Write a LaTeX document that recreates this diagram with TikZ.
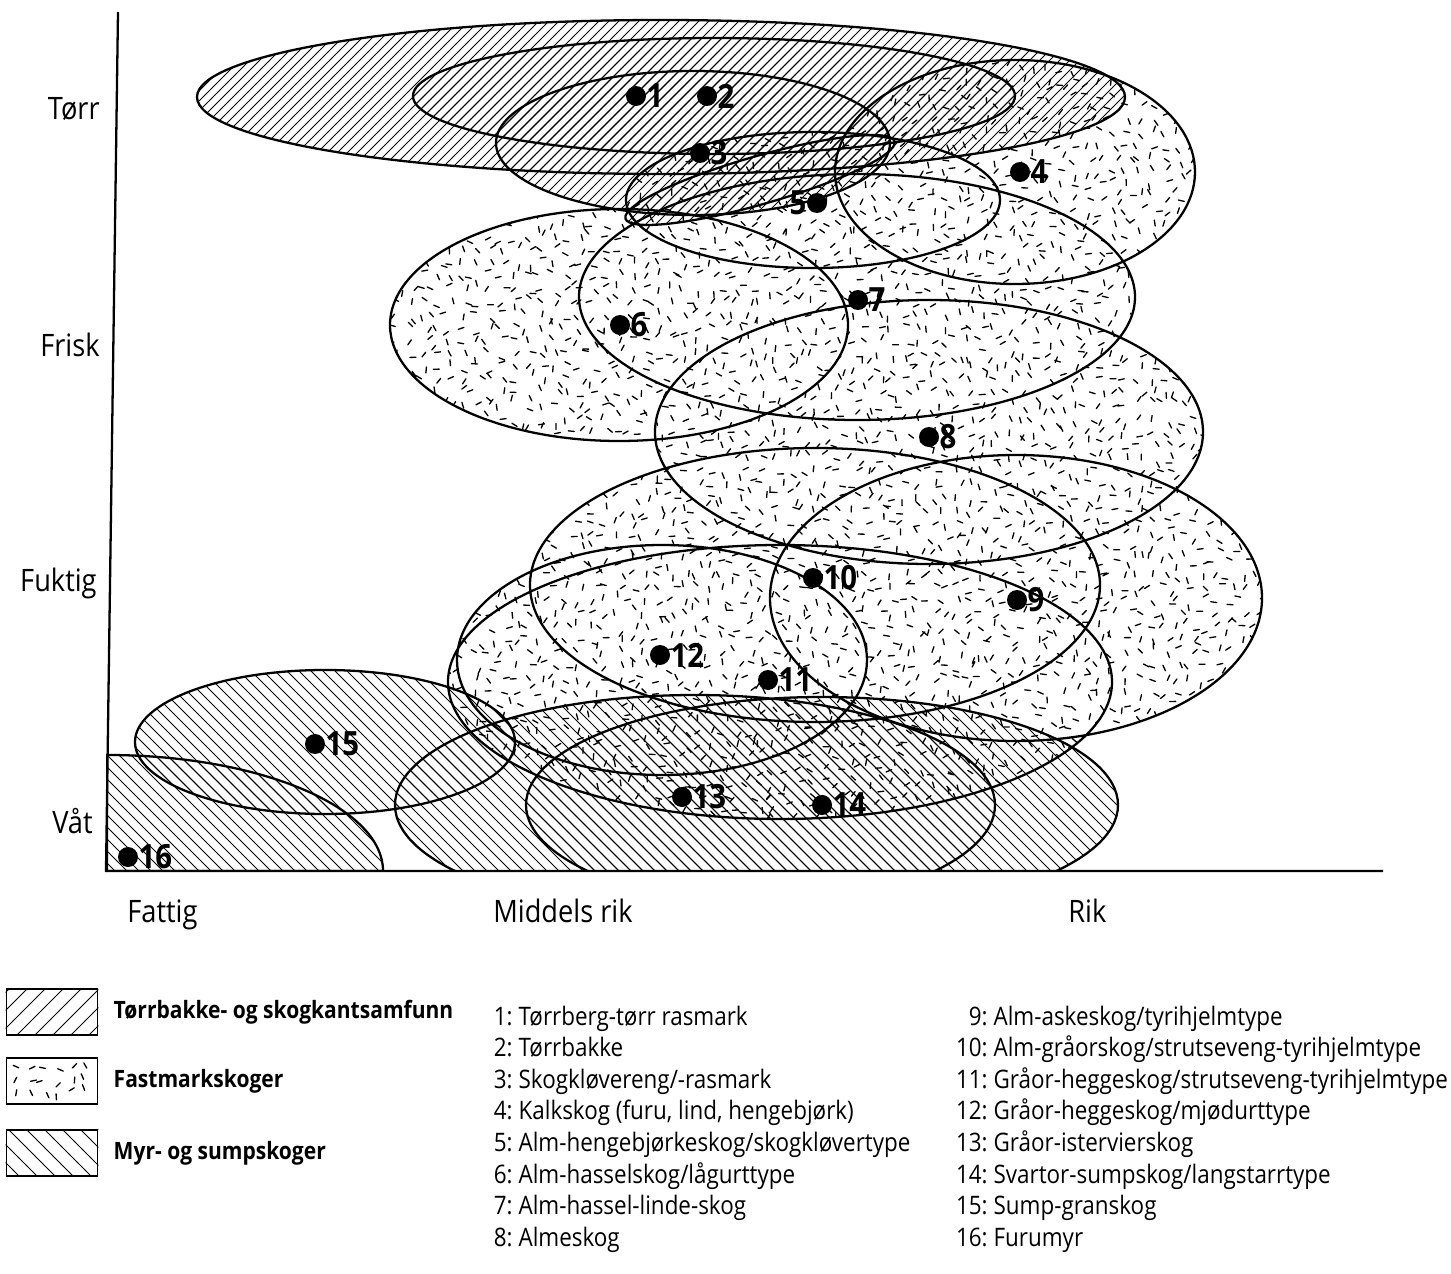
\documentclass[tikz,border=0pt]{standalone}
\usepackage{fontspec}
\setmainfont{Open Sans}[FakeStretch=0.88]
\usetikzlibrary{positioning}

\tikzset{
  outline/.style={line width=1.3pt},
  hatchline/.style={line width=0.55pt},
  stippledash/.style={line width=0.75pt, line cap=round},
  dot/.style={circle, fill=black, inner sep=0pt, minimum size=0.4cm},
  numlabel/.style={inner sep=0pt, font=\fontsize{19}{22}\selectfont\bfseries},
  axislabel/.style={inner sep=0pt, font=\fontsize{17.6}{21}\selectfont},
  listtext/.style={inner sep=0pt, font=\fontsize{14.5}{17}\selectfont},
  keytext/.style={inner sep=0pt, font=\fontsize{13.6}{16}\selectfont\bfseries},
  keybox/.style={draw, line width=1pt, inner sep=0pt, minimum width=1.82cm, minimum height=0.92cm},
}

\def\fastshapes{1015/172/180/112, 813/200/187/68, 619/325/229/116, 857/297/278/123, 929/432/274/132, 1016/598/246/143, 815/585/285/137, 780/682/332/137, 662/660/205/115}
\def\dryshapes{661/97/464/77/0, 714/96/301/58/0, 693/143/197/72/0, 760/180/140/24/16}
\def\wetshapes{695/805/300/110, 822/805/296/108, 325/742/190/72}

\begin{document}
\begin{tikzpicture}[x=0.02cm, y=-0.02cm]
\useasboundingbox (0,0) rectangle (1451,1274);

\begin{scope}
\clip (106,0) rectangle (1451,871);
% Fastmarkskoger
\begin{scope}
\clip foreach \cx/\cy/\rx/\ry in \fastshapes {(\cx,\cy) ellipse [x radius=\rx, y radius=\ry]};
\pgfmathsetseed{7}
\draw[stippledash] foreach \i in {0,...,68} {foreach \j in {0,...,59} {(385+13*\i+10*rnd-5, 55+13*\j+10*rnd-5) -- ++(360*rnd:6)}};
\end{scope}
% Toerrbakke
\foreach \cx/\cy/\rx/\ry/\rot in \dryshapes {
  \begin{scope}
  \clip[rotate around={\rot:(\cx,\cy)}] (\cx,\cy) ellipse [x radius=\rx, y radius=\ry];
  \draw[hatchline] foreach \c in {210,220,...,1360} {(\c,0) -- ++(-300,300)};
  \end{scope}
}
% Myr
\foreach \cx/\cy/\rx/\ry in \wetshapes {
  \begin{scope}
  \clip (\cx,\cy) ellipse [x radius=\rx, y radius=\ry];
  \draw[hatchline] foreach \c in {-180,-168,...,1070} {(\c,600) -- ++(300,300)};
  \end{scope}
}
\begin{scope}
\clip (107,871) -- (107,755) arc [start angle=-90, end angle=0, x radius=276, y radius=116] -- cycle;
\draw[hatchline] foreach \c in {-180,-168,...,1070} {(\c,600) -- ++(300,300)};
\end{scope}

\draw[outline] foreach \cx/\cy/\rx/\ry in \fastshapes {(\cx,\cy) ellipse [x radius=\rx, y radius=\ry]};
\foreach \cx/\cy/\rx/\ry/\rot in \dryshapes
  \draw[outline, rotate around={\rot:(\cx,\cy)}] (\cx,\cy) ellipse [x radius=\rx, y radius=\ry];
\draw[outline] foreach \cx/\cy/\rx/\ry in \wetshapes {(\cx,\cy) ellipse [x radius=\rx, y radius=\ry]};
\draw[outline] (107,871) -- (107,755) arc [start angle=-90, end angle=0, x radius=276, y radius=116] -- cycle;
\end{scope}

\coordinate (ytop) at (118,12);
\coordinate (origin) at (106,871);
\coordinate (xend) at (1383,871);
\draw[outline] (ytop) -- (origin) -- (xend);

\foreach \n/\x/\y/\side/\anc in {1/636/96/east/west, 2/707/96/east/west, 3/700/153/east/west, 4/1020/172/east/west, 5/817/203/west/east, 6/620/325/east/west, 7/858/300/east/west, 8/929/437/east/west, 9/1017/600/east/west, 10/813/578/east/west, 11/768/680/east/west, 12/660/655/east/west, 13/682/797/east/west, 14/822/805/east/west, 15/315/744/east/west, 16/128/857/east/west} {
  \node[dot] (d\n) at (\x,\y) {};
  \node[numlabel, anchor=\anc] (n\n) at (d\n.\side) {\n};
}

\node[axislabel, anchor=base east] (torr) at (100,120) {Tørr};
\node[axislabel, anchor=base east] (frisk) at (100,356) {Frisk};
\node[axislabel, anchor=base east] (fuktig) at (97,591) {Fuktig};
\node[axislabel, anchor=base east] (vat) at (93,833) {Våt};
\node[axislabel, anchor=base west] (fattig) at (127,922) {Fattig};
\node[axislabel, anchor=base west] (middels) at (493,922) {Middels rik};
\node[axislabel, anchor=base west] (rik) at (1068,922) {Rik};

\node[keybox] (k1) at (52,1012) {};
\node[keybox] (k2) at (52,1081) {};
\node[keybox] (k3) at (52,1153) {};
\begin{scope}
\clip (k1.south west) rectangle (k1.north east);
\draw[hatchline] foreach \c in {0,18,...,170} {(\c,980) -- ++(-60,60)};
\end{scope}
\begin{scope}
\clip (k2.south west) rectangle (k2.north east);
\pgfmathsetseed{3}
\draw[stippledash] foreach \i in {0,...,5} {foreach \j in {0,1,2} {(13+14*\i+6*rnd, 1064+13*\j+6*rnd) -- ++(360*rnd:6)}};
\end{scope}
\begin{scope}
\clip (k3.south west) rectangle (k3.north east);
\draw[hatchline] foreach \c in {-50,-32,...,100} {(\c,1125) -- ++(60,60)};
\end{scope}
\node[keytext, right=0.3cm of k1] (c1) {Tørrbakke- og skogkantsamfunn};
\node[keytext, right=0.3cm of k2] (c2) {Fastmarkskoger};
\node[keytext, right=0.3cm of k3] (c3) {Myr- og sumpskoger};

\foreach \t [count=\r] in {Tørrberg-tørr rasmark, Tørrbakke, Skogkløvereng/-rasmark, {Kalkskog (furu, lind, hengebjørk)}, Alm-hengebjørkeskog/skogkløvertype, Alm-hasselskog/lågurttype, Alm-hassel-linde-skog, Almeskog, Alm-askeskog/tyrihjelmtype, Alm-gråorskog/strutseveng-tyrihjelmtype, Gråor-heggeskog/strutseveng-tyrihjelmtype, Gråor-heggeskog/mjødurttype, Gråor-istervierskog, Svartor-sumpskog/langstarrtype, Sump-granskog, Furumyr} {
  \pgfmathsetmacro\colx{\r<9 ? 513 : 988}
  \pgfmathsetmacro\rowy{1025+31.6*mod(\r-1,8)}
  \node[listtext, anchor=base east] (l\r) at (\colx,\rowy) {\r:};
  \node[listtext, anchor=base west] (t\r) at ([xshift=3pt]l\r.base east) {\t};
}
\end{tikzpicture}
\end{document}
